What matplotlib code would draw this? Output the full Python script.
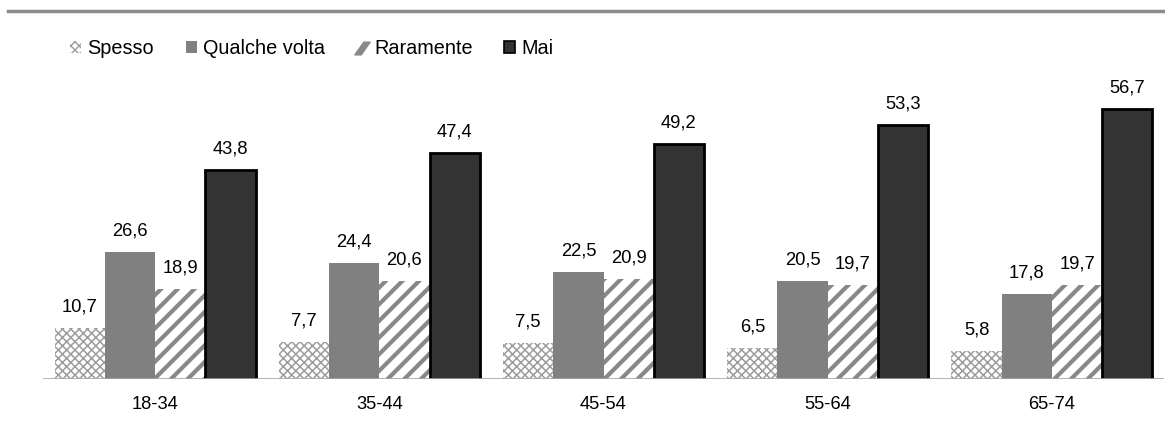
import matplotlib
matplotlib.use("Agg")
import matplotlib.pyplot as plt
from matplotlib.patches import Patch
from matplotlib.lines import Line2D
from matplotlib.path import Path
import numpy as np

plt.rcParams['font.family'] = ['Liberation Sans', 'DejaVu Sans']

categories = ["18-34", "35-44", "45-54", "55-64", "65-74"]
series_names = ["Spesso", "Qualche volta", "Raramente", "Mai"]
spesso = [10.7, 7.7, 7.5, 6.5, 5.8]
qualche = [26.6, 24.4, 22.5, 20.5, 17.8]
raramente = [18.9, 20.6, 20.9, 19.7, 19.7]
mai = [43.8, 47.4, 49.2, 53.3, 56.7]

FS = 13.2
LFS = 14.3
W, H = 1165, 426
fig = plt.figure(figsize=(W / 100, H / 100), dpi=100)
ax = fig.add_axes([43 / W, 1 - 379 / H, (1164 - 43) / W, 286 / H])

x = np.arange(len(categories))
bw = 0.224
styles = [
    dict(facecolor='white', edgecolor='#9c9c9c', hatch='xxxx', linewidth=0, hlw=1.1),
    dict(facecolor='#808080', edgecolor='#808080', hatch=None, linewidth=0, hlw=1.0),
    dict(facecolor='white', edgecolor='#888888', hatch='//', linewidth=0, hlw=3.0),
    dict(facecolor='#333333', edgecolor='black', hatch=None, linewidth=2, hlw=1.0),
]
data = [spesso, qualche, raramente, mai]
for i, (vals, st) in enumerate(zip(data, styles)):
    off = (i - 1.5) * bw
    with plt.rc_context({'hatch.linewidth': st['hlw']}):
        bars = ax.bar(x + off, vals, width=bw, facecolor=st['facecolor'],
                      edgecolor=st['edgecolor'], hatch=st['hatch'],
                      linewidth=st['linewidth'], zorder=2)
        for b in bars:
            if hasattr(b, 'set_hatch_linewidth'):
                b.set_hatch_linewidth(st['hlw'])
    for xi, v in zip(x + off, vals):
        ax.annotate(f"{v:.1f}".replace('.', ','), (xi, v), xytext=(0, 9),
                    textcoords='offset points', ha='center', va='bottom',
                    fontsize=FS)

ax.set_xlim(-0.5, len(categories) - 0.5)
ax.set_ylim(0, 60)
ax.axhline(0, color='#a6a6a6', lw=1.2, zorder=3)
for s in ax.spines.values():
    s.set_visible(False)
ax.set_yticks([])
ax.set_xticks(x)
ax.set_xticklabels(categories, fontsize=FS)
ax.tick_params(axis='x', length=0, pad=12)

# legend handles
slant = Path([(-0.6, -0.5), (-0.1, -0.5), (0.6, 0.5), (0.1, 0.5), (-0.6, -0.5)],
             [Path.MOVETO, Path.LINETO, Path.LINETO, Path.LINETO, Path.CLOSEPOLY])
with plt.rc_context({'hatch.linewidth': 1.0}):
    h_spesso = Patch(facecolor='white', edgecolor='#9c9c9c', hatch='xxxx',
                     linewidth=0, label=series_names[0])
h_qual = Patch(facecolor='#808080', edgecolor='#808080', linewidth=0,
               label=series_names[1])
h_rar = Line2D([], [], linestyle='none', marker=slant, markersize=11,
               markerfacecolor='#888888', markeredgecolor='#888888',
               label=series_names[2])
h_mai = Patch(facecolor='#333333', edgecolor='black', linewidth=1.2,
              label=series_names[3])
fig.legend(handles=[h_spesso, h_qual, h_rar, h_mai], loc='center left',
           bbox_to_anchor=(70 / W, 1 - 49 / H),
           ncol=4, frameon=False, fontsize=LFS, handlelength=0.55, handleheight=0.55,
           handletextpad=0.32, columnspacing=1.6, borderaxespad=0, borderpad=0)

fig.add_artist(Line2D([8 / W, 1.0], [1 - 11 / H, 1 - 11 / H], color='#8c8c8c',
                      lw=2.5, transform=fig.transFigure))

fig.savefig("out.png", dpi=100)
